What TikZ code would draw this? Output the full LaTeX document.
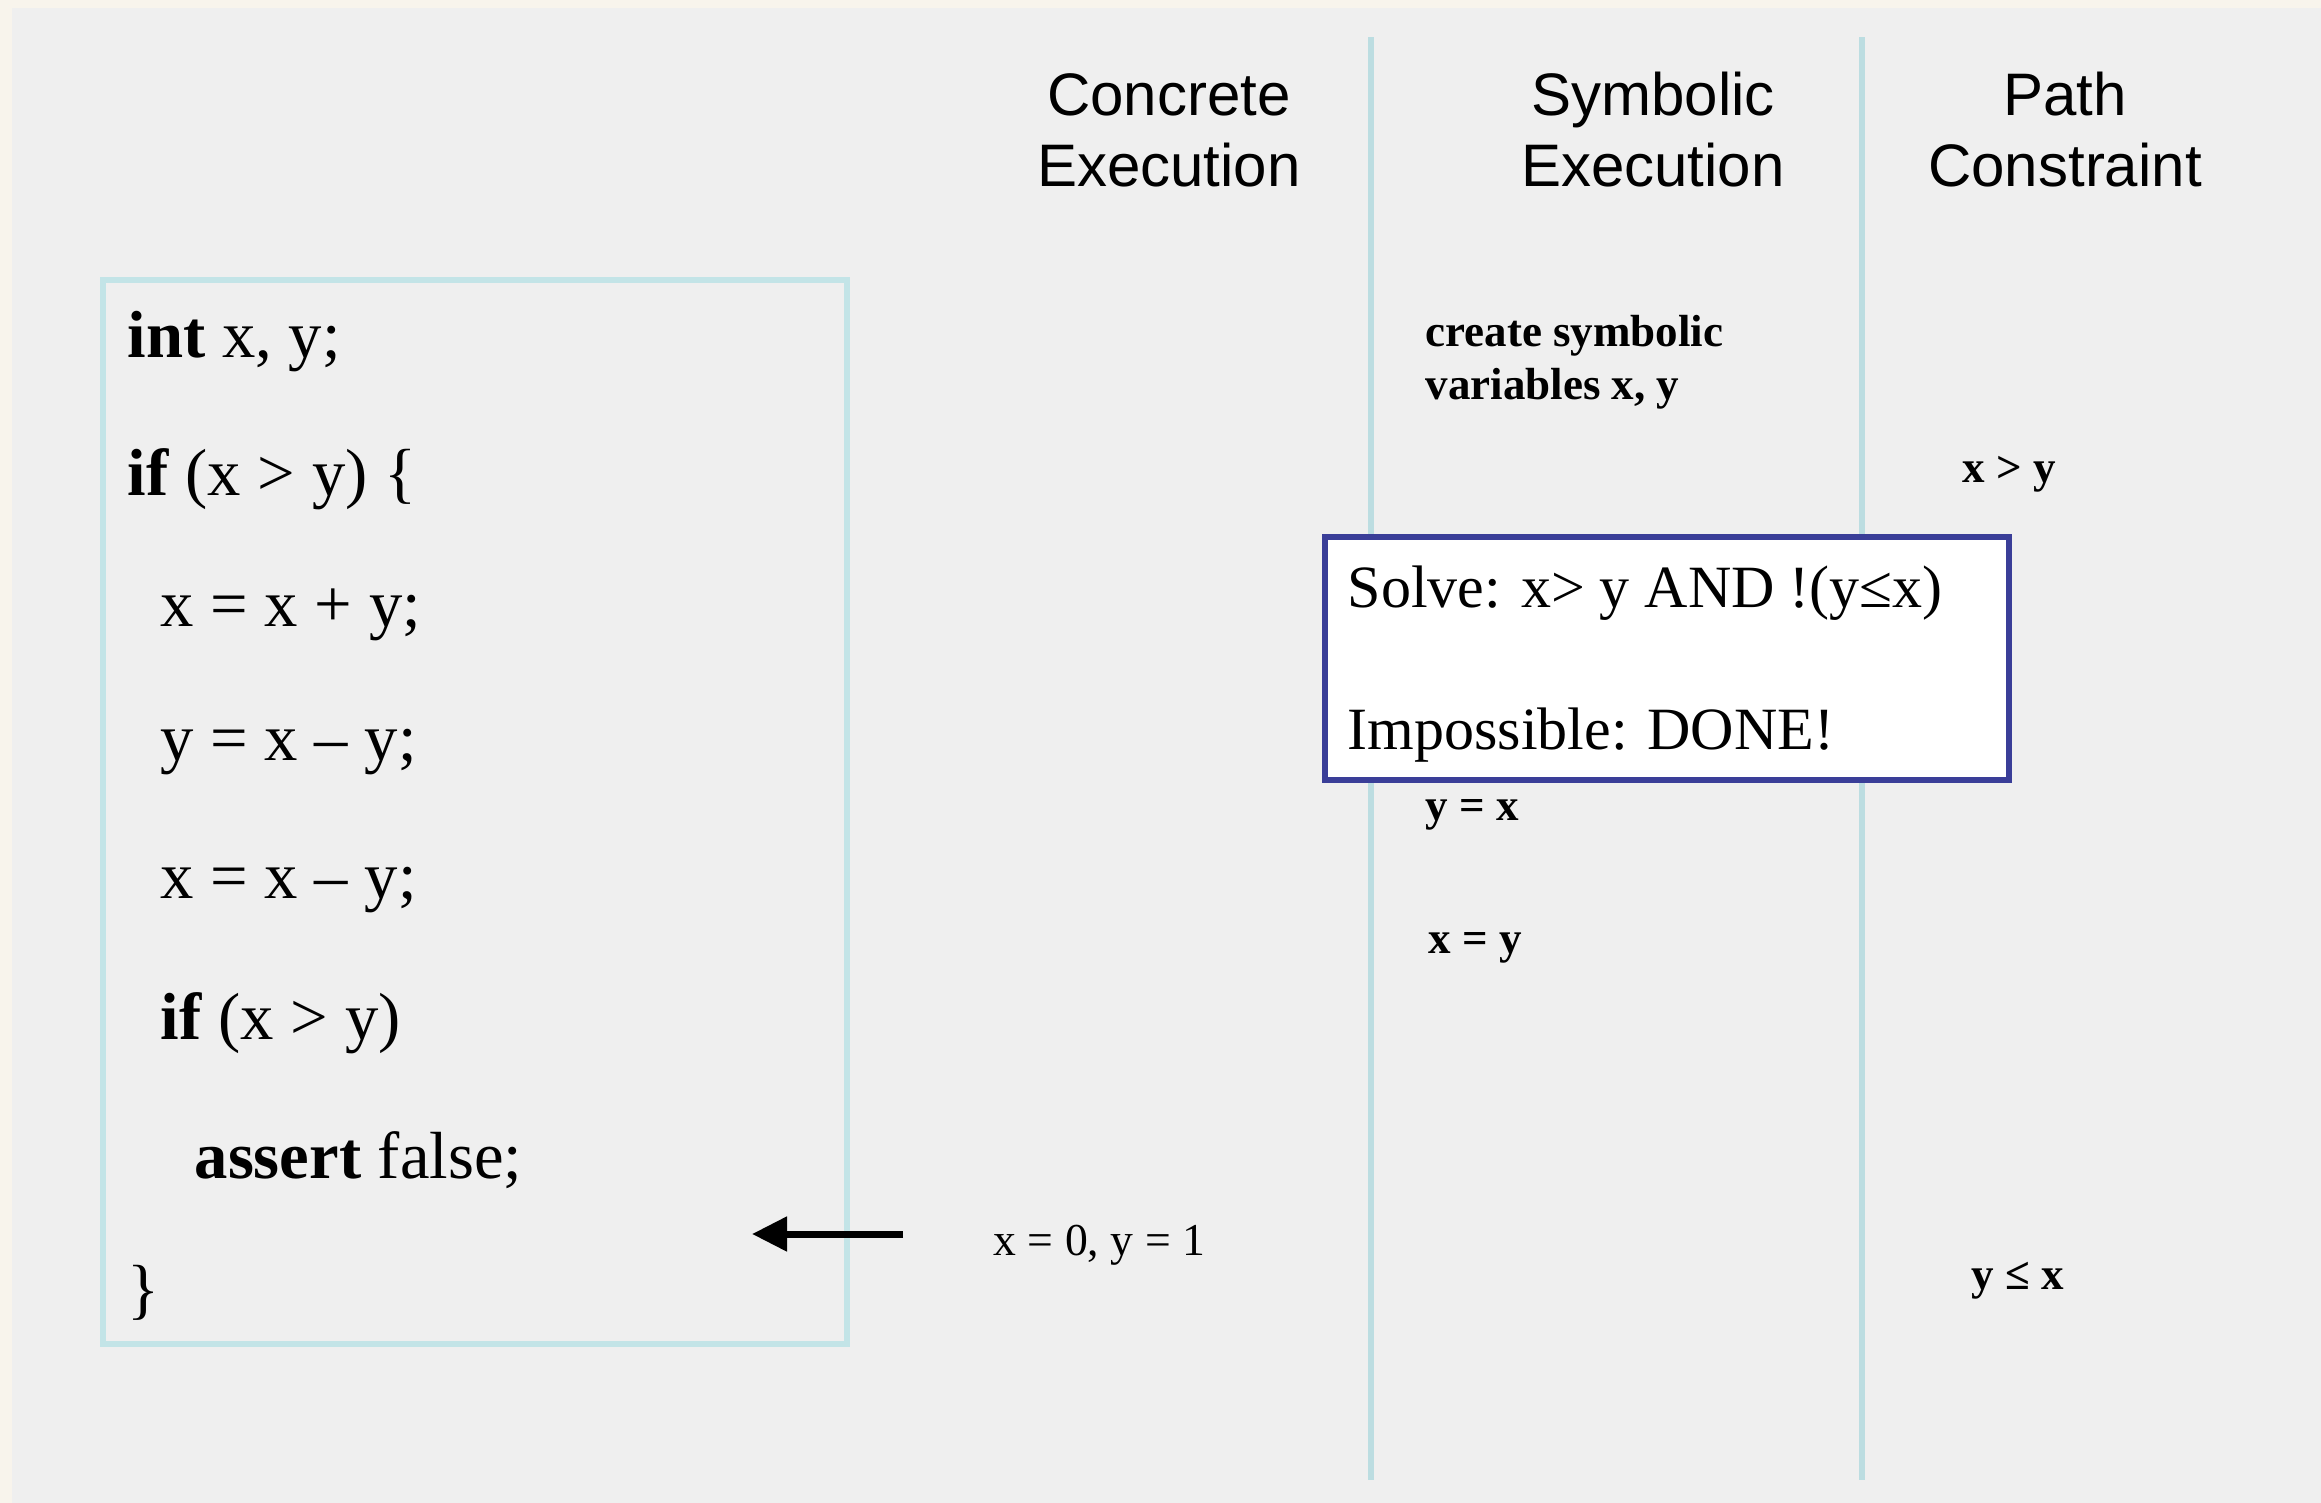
\documentclass[tikz,border=0pt]{standalone}
\usepackage{fontspec}
\setmainfont{Liberation Serif}
\newfontfamily\hdrfont{Liberation Sans}
\usetikzlibrary{arrows.meta}
\definecolor{bgcream}{HTML}{F8F4EC}
\definecolor{bggray}{HTML}{EFEFEF}
\definecolor{lanecol}{HTML}{BCDDE1}
\definecolor{codeborder}{HTML}{C3E4E7}
\definecolor{navy}{HTML}{3A3E98}
\tikzset{
  hdr/.style={align=center, inner sep=0pt, font=\hdrfont\fontsize{18pt}{21.3pt}\selectfont},
  codeln/.style={anchor=west, inner sep=0pt, yshift=-1.5pt, font=\fontsize{20pt}{24pt}\selectfont},
  smalltxt/.style={anchor=west, inner sep=0pt, yshift=-1.5pt, align=left, font=\fontsize{13.7pt}{15.9pt}\selectfont},
  smallbold/.style={smalltxt, font=\bfseries\fontsize{13.5pt}{15.9pt}\selectfont},
  solvetxt/.style={anchor=west, inner sep=0pt, yshift=-1.2pt, font=\fontsize{18pt}{21.6pt}\selectfont},
  lane/.style={draw=lanecol, line width=1.8pt},
  framebox/.style={line width=1.8pt, anchor=north west, inner sep=0pt, outer sep=0pt},
}
\begin{document}
\begin{tikzpicture}[x=0.3pt, y=-0.3pt]
\useasboundingbox (0,0) rectangle (2321,1503);
\fill[bgcream] (0,0) rectangle (2321,1503);
\fill[bggray] (12,8) rectangle (2321,1503);

% lanes
\coordinate (l1t) at (1371,37); \coordinate (l1b) at (1371,1480);
\coordinate (l2t) at (1862,37); \coordinate (l2b) at (1862,1480);
\draw[lane] (l1t) -- (l1b);
\draw[lane] (l2t) -- (l2b);

% headers
\node[hdr] (hconc) at (1169,130) {Concrete\\Execution};
\node[hdr] (hsym) at (1653,130) {Symbolic\\Execution};
\node[hdr] (hpath) at (2065,130) {Path\\Constraint};

% code box
\node[framebox, draw=codeborder, minimum width=223.2pt, minimum height=319.2pt] (codebox) at (103,280) {};
\node[codeln] (c1) at (127,337) {\textbf{int} x, y;};
\node[codeln] (c2) at (127,474) {\textbf{if} (x > y) \{};
\node[codeln] (c3) at (160,610) {x = x + y;};
\node[codeln] (c4) at (160,747) {y = x – y;};
\node[codeln] (c5) at (160,885) {x = x – y;};
\node[codeln] (c6) at (160,1018) {\textbf{if} (x > y)};
\node[codeln] (c7) at (194,1155) {\textbf{assert} false;};
\node[codeln] (c8) at (127,1288) {\}};

% arrow
\coordinate (arrS) at (903,1234);
\coordinate (arrE) at (752,1234);
\draw[line width=2.1pt, -{Triangle[length=10.5pt,width=10pt]}] (arrS) -- (arrE);

% concrete values
\node[smalltxt] (conc) at (993,1240) {x = 0, y = 1};

% symbolic column
\node[smallbold] (create) at (1425,357) {create symbolic\\variables x, y};
\node[smallbold] (yx) at (1425,810) {y = x};
\node[smallbold] (xy) at (1428,943) {x = y};

% path constraint column
\node[smallbold] (pc1) at (1962,469) {x > y};
\node[smallbold] (pc2) at (1971,1276) {y ≤ x};

% solve box
\node[framebox, draw=navy, fill=white, minimum width=205.2pt, minimum height=72.9pt] (solvebox) at (1325,537) {};
\node[solvetxt] (solve1) at (1347,589) {Solve: x> y AND !(y≤x)};
\node[solvetxt] (solve2) at (1347,731) {Impossible: DONE!};
\end{tikzpicture}
\end{document}
